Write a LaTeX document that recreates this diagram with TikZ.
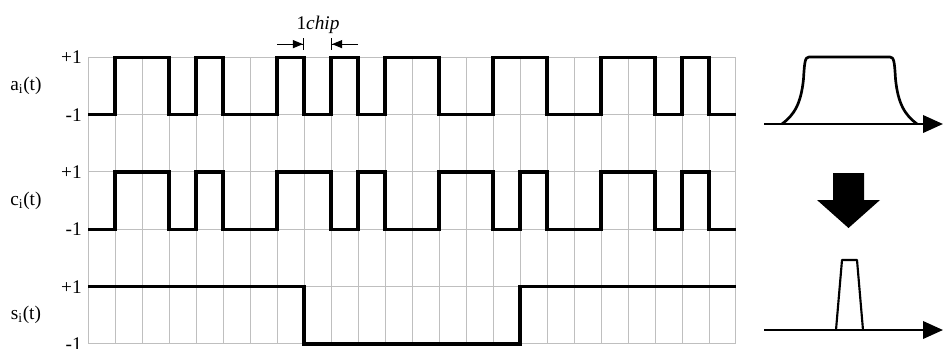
\documentclass[tikz,border=0pt]{standalone}
\usepackage{fontspec}
\setmainfont{Liberation Serif}
\usetikzlibrary{arrows.meta}

\tikzset{
  gridline/.style={gray!50, line width=0.75pt},
  wave/.style={line width=2.4pt},
  lvl/.style={anchor=east, inner sep=0pt},
  sig/.style={inner sep=0pt},
  axis/.style={line width=2pt, -{Triangle[length=15pt,width=13pt]}},
  spec/.style={line width=2pt, line join=round},
  chiparrow/.style={line width=0.8pt, -{Triangle[length=7.5pt,width=6pt]Bar[width=8.5pt,line width=0.8pt]}},
}

\begin{document}
\begin{tikzpicture}[x=20.25pt, y=43pt, font=\fontsize{14.5}{17}\selectfont]
  \useasboundingbox (-3.2593,-0.0872) rectangle (31.7407,6.0);
  % chip grid
  \draw[gridline, step=1] (0,0) grid (24,5);
  % level labels and signal names
  \foreach \row/\lo in {a/4, c/2, s/0} {
    \node[lvl] (\row hi) at (-0.22,\lo+1) {+1};
    \node[lvl] (\row lo) at (-0.22,\lo) {-1};
    \node[sig] (\row name) at (-2.3,\lo+0.5) {\row\textsubscript{i}(t)};
  }
  % spread signal a_i(t)
  \draw[wave] (0,4) -| (1,5) -| (3,4) -| (4,5) -| (5,4) -| (7,5) -| (8,4) -| (9,5) -| (10,4)
    -| (11,5) -| (13,4) -| (15,5) -| (17,4) -| (19,5) -| (21,4) -| (22,5) -| (23,4) -- (24,4);
  % code c_i(t)
  \draw[wave] (0,2) -| (1,3) -| (3,2) -| (4,3) -| (5,2) -| (7,3) -| (9,2) -| (10,3) -| (11,2)
    -| (13,3) -| (15,2) -| (16,3) -| (17,2) -| (19,3) -| (21,2) -| (22,3) -| (23,2) -- (24,2);
  % data s_i(t)
  \draw[wave] (0,1) -| (8,0) -| (16,1) -- (24,1);
  % one chip
  \node (chiplbl) at (8.52,5.56) {1\textit{chip}};
  \coordinate (chipLs) at (7,5.23);
  \coordinate (chipL) at (8,5.23);
  \coordinate (chipRs) at (10,5.23);
  \coordinate (chipR) at (9,5.23);
  \draw[chiparrow] (chipLs) -- (chipL);
  \draw[chiparrow] (chipRs) -- (chipR);
  % spectra
  \begin{scope}[shift={(25.037,3.837)}, x=0.75pt, y=0.75pt]
    \coordinate (wideS) at (0,0);
    \coordinate (wideE) at (179,0);
    \draw[axis] (wideS) -- (wideE);
    \draw[spec] (18,0) .. controls (30,9) and (37,20) .. (39.5,45) .. controls (40.5,62) and (41,67) .. (45,67)
      -- (126,67) .. controls (130,67) and (130.5,62) .. (131.5,45) .. controls (134,20) and (141,9) .. (153,0);
    \fill (69,-49) -- (100,-49) -- (100,-76) -- (116,-76) -- (84.5,-104) -- (53,-76) -- (69,-76) -- cycle;
    \coordinate (narrowS) at (0,-206);
    \coordinate (narrowE) at (179,-206);
    \draw[axis] (narrowS) -- (narrowE);
    \draw[spec, line width=1.6pt] (72,-206) -- (78,-136) -- (93,-136) -- (99,-206);
  \end{scope}
\end{tikzpicture}
\end{document}
